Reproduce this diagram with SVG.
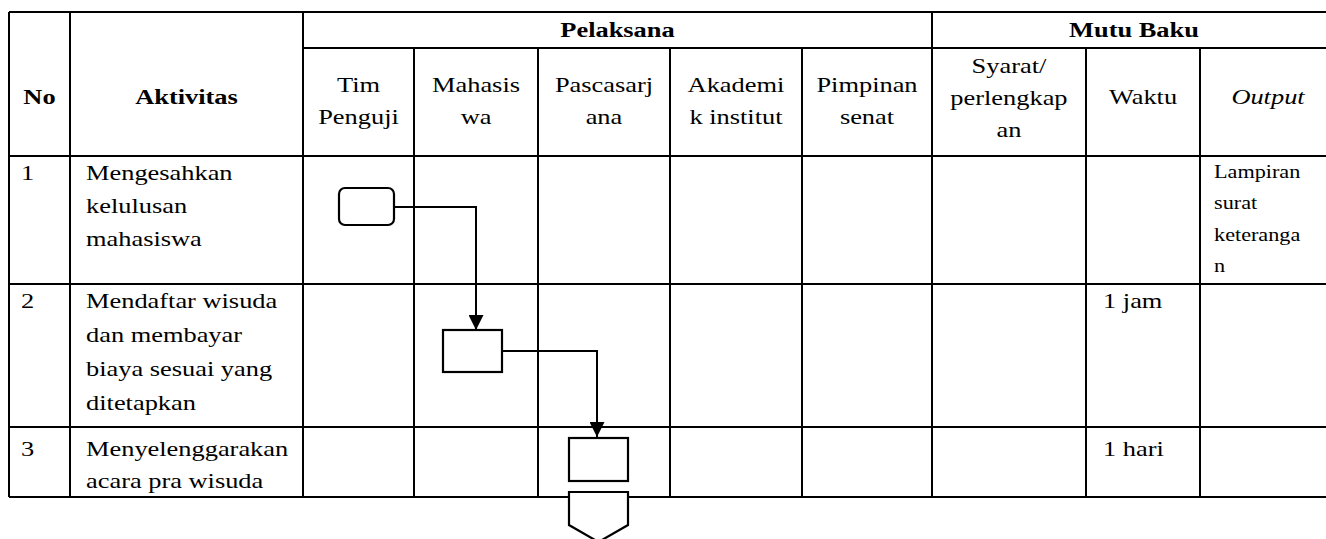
<svg xmlns="http://www.w3.org/2000/svg" width="1326" height="539" viewBox="0 0 1326 539">
  <defs>
    <style>
      .grid line { stroke: #000; stroke-width: 2; }
      .t { font-family: "Liberation Serif", "Times New Roman", serif; font-size: 22px; fill: #000; }
      .b { font-weight: bold; }
      .c { text-anchor: middle; }
      .i { font-style: italic; }
      .s { font-size: 18.5px; }
      .node { fill: #fff; stroke: #000; stroke-width: 2.2; }
      .conn { fill: none; stroke: #000; stroke-width: 2; }
    </style>
    <marker id="arrow" viewBox="0 0 10 10" refX="10" refY="5" markerWidth="7.5" markerHeight="7.5" markerUnits="strokeWidth" orient="auto">
      <path d="M0,0 L10,5 L0,10 z" fill="#000"/>
    </marker>
  </defs>
  <rect width="1326" height="539" fill="#fff"/>

  <g id="table" class="grid">
    <line x1="9" y1="12" x2="1326" y2="12"/>
    <line x1="303" y1="48" x2="1326" y2="48"/>
    <line x1="9" y1="156" x2="1326" y2="156"/>
    <line x1="9" y1="284" x2="1326" y2="284"/>
    <line x1="9" y1="427" x2="1326" y2="427"/>
    <line x1="9" y1="497" x2="1326" y2="497"/>
    <line x1="9" y1="12" x2="9" y2="497"/>
    <line x1="70" y1="12" x2="70" y2="497"/>
    <line x1="303" y1="12" x2="303" y2="497"/>
    <line x1="414" y1="48" x2="414" y2="497"/>
    <line x1="538" y1="48" x2="538" y2="497"/>
    <line x1="670" y1="48" x2="670" y2="497"/>
    <line x1="802" y1="48" x2="802" y2="497"/>
    <line x1="932" y1="12" x2="932" y2="497"/>
    <line x1="1086" y1="48" x2="1086" y2="497"/>
    <line x1="1200" y1="48" x2="1200" y2="497"/>
  </g>

  <g id="texts" transform="scale(1.2,1)">
    <text class="t b c" x="514.6" y="37">Pelaksana</text>
    <text class="t b c" x="945" y="37">Mutu Baku</text>
    <text class="t b c" x="32.9" y="104">No</text>
    <text class="t b c" x="155.4" y="104">Aktivitas</text>
    <text class="t c" x="298.75" y="92">Tim</text>
    <text class="t c" x="298.75" y="124">Penguji</text>
    <text class="t c" x="396.7" y="92">Mahasis</text>
    <text class="t c" x="396.7" y="124">wa</text>
    <text class="t c" x="503.3" y="92">Pascasarj</text>
    <text class="t c" x="503.3" y="124">ana</text>
    <text class="t c" x="613.3" y="92">Akademi</text>
    <text class="t c" x="613.3" y="124">k institut</text>
    <text class="t c" x="722.5" y="92">Pimpinan</text>
    <text class="t c" x="722.5" y="124">senat</text>
    <text class="t c" x="840.8" y="73">Syarat/</text>
    <text class="t c" x="840.8" y="105">perlengkap</text>
    <text class="t c" x="840.8" y="137">an</text>
    <text class="t c" x="952.5" y="104">Waktu</text>
    <text class="t c i" x="1056.7" y="104">Output</text>

    <text class="t" x="17.5" y="180">1</text>
    <text class="t" x="71.7" y="180">Mengesahkan</text>
    <text class="t" x="71.7" y="213">kelulusan</text>
    <text class="t" x="71.7" y="246">mahasiswa</text>
    <text class="t s" x="1011.7" y="178">Lampiran</text>
    <text class="t s" x="1011.7" y="209">surat</text>
    <text class="t s" x="1011.7" y="241">keteranga</text>
    <text class="t s" x="1011.7" y="272">n</text>

    <text class="t" x="17.5" y="308">2</text>
    <text class="t" x="71.7" y="308">Mendaftar wisuda</text>
    <text class="t" x="71.7" y="342">dan membayar</text>
    <text class="t" x="71.7" y="376">biaya sesuai yang</text>
    <text class="t" x="71.7" y="410">ditetapkan</text>
    <text class="t" x="919.2" y="308">1 jam</text>

    <text class="t" x="17.5" y="456">3</text>
    <text class="t" x="71.7" y="456">Menyelenggarakan</text>
    <text class="t" x="71.7" y="488">acara pra wisuda</text>
    <text class="t" x="919.2" y="456">1 hari</text>
  </g>

  <g id="connectors">
    <path class="conn" d="M394,207 H476 V330" marker-end="url(#arrow)"/>
    <path class="conn" d="M502,351 H597 V437" marker-end="url(#arrow)"/>
  </g>

  <g id="node-start">
    <rect class="node" x="339" y="188" width="55" height="37" rx="6" ry="6"/>
  </g>
  <g id="node-daftar">
    <rect class="node" x="443" y="330" width="59" height="42"/>
  </g>
  <g id="node-prawisuda">
    <rect class="node" x="569" y="438" width="59" height="43"/>
  </g>
  <g id="node-offpage">
    <path class="node" d="M569,492 H628 V525 L598.5,542 L569,525 Z"/>
  </g>
</svg>
